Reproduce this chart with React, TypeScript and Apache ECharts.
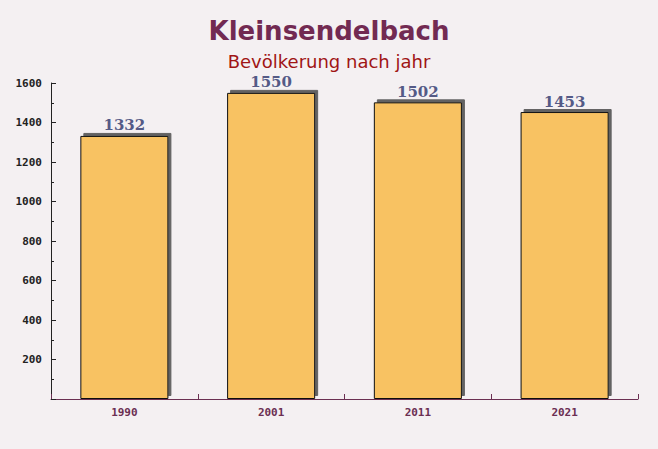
import React, { useEffect, useRef } from "react";
import * as echarts from "echarts";

const years = ["1990", "2001", "2011", "2021"];
const population = [1332, 1550, 1502, 1453];
const titleText = "Kleinsendelbach";
const subtitleText = "Bevölkerung nach jahr";

export default function App() {
  const ref = useRef<HTMLDivElement>(null);
  useEffect(() => {
    const chart = echarts.init(ref.current!, null, { renderer: "svg" });
    chart.setOption({
      animation: false,
      backgroundColor: "#f4f0f2",
      title: [
        {
          text: titleText,
          left: "center",
          top: 13,
          textStyle: { fontFamily: "DejaVu Sans", fontWeight: "bold", fontSize: 26, color: "#722a52" },
        },
        {
          text: subtitleText,
          left: "center",
          top: 47,
          textStyle: { fontFamily: "DejaVu Sans", fontWeight: "normal", fontSize: 18, color: "#a01515" },
        },
      ],
      grid: { left: 51, right: 20, top: 83, bottom: 50 },
      xAxis: {
        type: "category",
        data: years,
        axisLine: { lineStyle: { color: "#6b2f52", width: 1 } },
        axisTick: { show: true, inside: true, length: 5, alignWithLabel: false, lineStyle: { color: "#6b2f52" } },
        axisLabel: {
          margin: 8,
          fontFamily: "DejaVu Sans Mono",
          fontWeight: "bold",
          fontSize: 11,
          color: "#6b2f52",
        },
      },
      yAxis: {
        type: "value",
        min: 0,
        max: 1600,
        interval: 200,
        splitLine: { show: false },
        axisLine: { show: true, lineStyle: { color: "#222" } },
        axisTick: { show: true, inside: true, length: 5, lineStyle: { color: "#222" } },
        minorTick: { show: true, splitNumber: 2, length: 3, lineStyle: { color: "#222" } },
        axisLabel: {
          margin: 9,
          fontFamily: "DejaVu Sans Mono",
          fontWeight: "bold",
          fontSize: 11,
          color: "#222",
          formatter: (v: number) => (v === 0 ? "" : String(v)),
        },
      },
      series: [
        {
          type: "bar",
          data: population,
          barWidth: "60%",
          itemStyle: {
            color: "#f8c262",
            borderColor: "#111",
            borderWidth: 1,
            shadowColor: "rgba(90,90,90,0.95)",
            shadowBlur: 0,
            shadowOffsetX: 3,
            shadowOffsetY: -3,
          },
          label: {
            show: true,
            position: "top",
            distance: 3,
            fontFamily: "DejaVu Serif",
            fontWeight: "bold",
            fontSize: 15,
            color: "#545a86",
          },
        },
      ],
    });
    return () => chart.dispose();
  }, []);
  return <div ref={ref} style={{ position: "absolute", left: 0, top: 0, width: 658, height: 449 }} />;
}
